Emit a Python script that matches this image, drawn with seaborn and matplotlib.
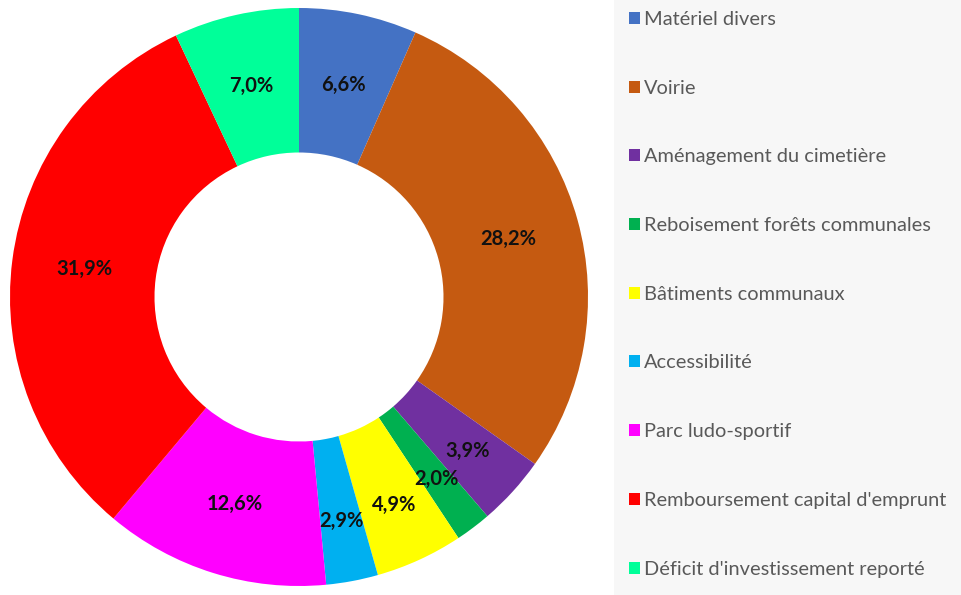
import matplotlib
matplotlib.use("Agg")
import numpy as np
import matplotlib.pyplot as plt
import matplotlib.patches as mpatches
import seaborn as sns

# Budget categories, in drawing order (clockwise from the top)
CATEGORIES = [
    "Matériel divers",
    "Voirie",
    "Aménagement du cimetière",
    "Reboisement forêts communales",
    "Bâtiments communaux",
    "Accessibilité",
    "Parc ludo-sportif",
    "Remboursement capital d'emprunt",
    "Déficit d'investissement reporté",
]
SHARES = [6.6, 28.2, 3.9, 2.0, 4.9, 2.9, 12.6, 31.9, 7.0]
COLORS = [
    "#4472C4", "#C55A11", "#7030A0", "#00B050", "#FFFF00",
    "#00B0F0", "#FF00FF", "#FF0000", "#00FF99",
]

sns.set_theme(style="white")
plt.rcParams["font.family"] = ["Lato", "DejaVu Sans"]

W, H, DPI = 962, 595, 100
fig = plt.figure(figsize=(W / DPI, H / DPI), dpi=DPI)
fig.patch.set_facecolor("white")

# Grey panel behind the legend
fig.patches.append(mpatches.Rectangle((614 / W, 0), 1, 1, transform=fig.transFigure,
                                      facecolor="#F7F7F7", edgecolor="none", zorder=0))

# Donut: centre (299, 297) px, outer radius 289 px
cx, cy, r = 299, 297, 289
ax = fig.add_axes([(cx - r) / W, (H - cy - r) / H, 2 * r / W, 2 * r / H])
wedges, texts, autotexts = ax.pie(
    SHARES, colors=COLORS, startangle=90, counterclock=False, radius=1,
    autopct=lambda p: f"{p:.1f}%".replace(".", ","), pctdistance=0.75,
    wedgeprops=dict(width=0.5, linewidth=0),
    textprops=dict(fontsize=14.5, fontweight="bold", color="#111111"),
)

# small slices: labels sit a bit further out, like the "best fit" placement
for w, t, share in zip(wedges, autotexts, SHARES):
    if share < 5:
        ang = np.deg2rad((w.theta1 + w.theta2) / 2)
        t.set_position((0.79 * np.cos(ang), 0.79 * np.sin(ang)))

ax.set_xlim(-1, 1)
ax.set_ylim(-1, 1)
ax.set_aspect("equal")
ax.axis("off")

# Legend on the right
handles = [mpatches.Patch(facecolor=c, edgecolor="none") for c in COLORS]
leg = fig.legend(handles, CATEGORIES, loc="upper left",
                 bbox_to_anchor=(629 / W, 1 - 11 / H), frameon=False,
                 fontsize=14.4, labelcolor="#595959", handlelength=0.55, handleheight=0.55,
                 handletextpad=0.2, labelspacing=2.585, borderaxespad=0, borderpad=0)

fig.savefig("out.png", dpi=DPI)
